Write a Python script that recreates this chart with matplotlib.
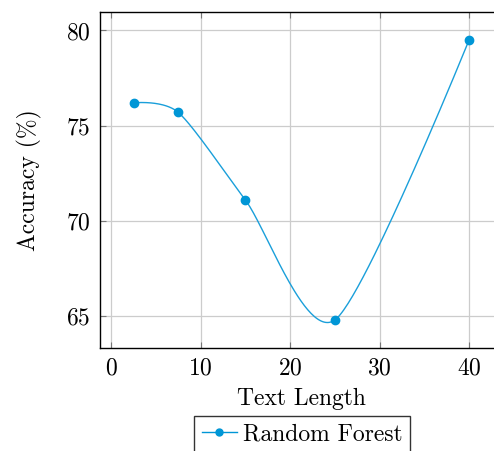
import numpy as np
import matplotlib.pyplot as plt

# values
text_length = [2.5, 7.5, 15, 25, 40]
accuracy = [76.2, 75.7, 71.1, 64.8, 79.5]
x_ticks = [0, 10, 20, 30, 40]
y_ticks = [65, 70, 75, 80]
series_name = "Random Forest"

plt.rcParams['font.family'] = 'serif'
plt.rcParams['font.serif'] = ['cmr10']
plt.rcParams['mathtext.fontset'] = 'cm'
plt.rcParams['axes.formatter.use_mathtext'] = True

FS = 17
W, H = 494, 451
fig = plt.figure(figsize=(W / 100, H / 100), dpi=100)
ax = fig.add_axes([100 / W, 1 - 348 / H, 402.6 / W, 336 / H])

# pgfplots style: enlarge limits by 10% of the data range
xr = max(text_length) - min(text_length)
yr = max(accuracy) - min(accuracy)
x0, x1 = min(text_length) - 0.1 * xr, max(text_length) + 0.1 * xr
y0, y1 = min(accuracy) - 0.1 * yr, max(accuracy) + 0.1 * yr
ax.set_xlim(x0, x1)
ax.set_ylim(y0, y1)


def smooth(xs, ys, f=0.13, steps=60):
    # tikz "smooth" curve: cubic bezier pieces, computed in screen units
    bb = ax.get_position()
    kx = bb.width * W / (x1 - x0)
    ky = bb.height * H / (y1 - y0)
    P = np.column_stack([np.asarray(xs, float) * kx, np.asarray(ys, float) * ky])
    n = len(P)
    tang = np.zeros_like(P)
    for i in range(1, n - 1):
        tang[i] = f * (P[i + 1] - P[i - 1])
    t = np.linspace(0, 1, steps)[:, None]
    pts = []
    for i in range(n - 1):
        a, d = P[i], P[i + 1]
        b = a + tang[i]
        c = d - tang[i + 1]
        seg = (1 - t) ** 3 * a + 3 * (1 - t) ** 2 * t * b + 3 * (1 - t) * t ** 2 * c + t ** 3 * d
        pts.append(seg)
    pts = np.vstack(pts)
    return pts[:, 0] / kx, pts[:, 1] / ky


col = '#0096d6'
sx, sy = smooth(text_length, accuracy)
ax.plot(sx, sy, color='#1a9fda', lw=1.0, zorder=3)
ax.plot(text_length, accuracy, 'o', color=col, ms=6, zorder=4)
# proxy for legend
h, = ax.plot([], [], '-o', color=col, lw=1.0, ms=5)

ax.set_xticks(x_ticks)
ax.set_yticks(y_ticks)
ax.grid(True, color='#cccccc', lw=0.9)
ax.set_axisbelow(True)
ax.tick_params(direction='in', length=4, width=0.8, color='#777777',
               top=True, right=True, labelsize=FS, pad=7)
for s in ax.spines.values():
    s.set_linewidth(1.0)

ax.set_xlabel('Text Length', fontsize=FS, labelpad=6)
ax.set_ylabel('Accuracy (%)', fontsize=FS, labelpad=17)

fig.legend([h], [series_name], loc='upper center',
           bbox_to_anchor=(302 / W, 1 - 416 / H), fontsize=FS,
           fancybox=False, edgecolor='#333333', framealpha=1,
           handlelength=1.5, handletextpad=0.25, borderpad=0.3,
           borderaxespad=0)

fig.savefig('out.png', dpi=100)
